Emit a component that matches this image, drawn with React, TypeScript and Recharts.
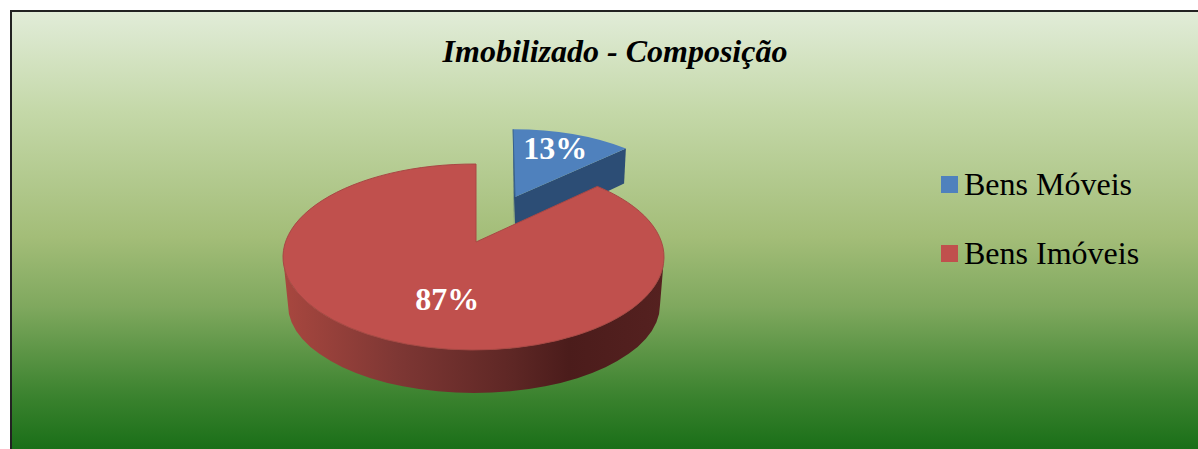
import { PieChart, Pie, Cell, Legend } from "recharts";

const categories = ["Bens Móveis", "Bens Imóveis"];
const shares = [13, 87];
const colors = ["#4F81BD", "#C0504D"];

const data = categories.map((name, i) => ({ name, value: shares[i] }));

const W = 1198;
const H = 449;
const FONT = "'Liberation Serif', 'Times New Roman', serif";
const PIE_CX = 476;
const PIE_CY = 242;
const PIE_R = 190.5;

// tilted pie: apex is off the ellipse centre because of the perspective
const SQUASH = 0.488;
const CENTER_DX = -2.5;
const CENTER_DY = 15;

// slice 0 is exploded to the back, so it also looks a bit smaller
const sliceLook = [
  { dx: 39, dy: -45, scale: 0.92, squash: 0.465 },
  { dx: 0, dy: 0, scale: 1, squash: SQUASH },
];
const labelPull = [
  [0.58, 0.65],
  [0.38, 0.67],
];

function ellipsePoint(ax: number, ay: number, ex: number, ey: number, rx: number, ry: number, deg: number) {
  // ray from the apex, leaving at the data angle (clockwise from 12 o'clock)
  const th = (deg * Math.PI) / 180;
  const dx = Math.sin(th) * rx;
  const dy = -Math.cos(th) * ry;
  const ox = ax - ex;
  const oy = ay - ey;
  const a = (dx * dx) / (rx * rx) + (dy * dy) / (ry * ry);
  const b = 2 * ((ox * dx) / (rx * rx) + (oy * dy) / (ry * ry));
  const c = (ox * ox) / (rx * rx) + (oy * oy) / (ry * ry) - 1;
  const t = (-b + Math.sqrt(b * b - 4 * a * c)) / (2 * a);
  return { x: ax + t * dx, y: ay + t * dy };
}

function Slice3D(props: any) {
  const { cx, cy, outerRadius, startAngle, endAngle, fill, index } = props;
  const look = sliceLook[index];
  const ax = cx + look.dx;
  const ay = cy + look.dy;
  const rx = outerRadius * look.scale;
  const ry = outerRadius * look.scale * look.squash;
  const ex = ax + CENTER_DX * look.scale;
  const ey = ay + CENTER_DY * look.scale;
  const a0 = 90 - startAngle;
  const a1 = 90 - endAngle;
  const p0 = ellipsePoint(ax, ay, ex, ey, rx, ry, a0);
  const p1 = ellipsePoint(ax, ay, ex, ey, rx, ry, a1);
  const large = a1 - a0 > 180 ? 1 : 0;

  if (index === 0) {
    const depth = 35;
    // the far edge leans out a little at the top
    const lean = p0.x - 2;
    const top = `M${ax},${ay} L${lean},${p0.y} A${rx},${ry} 0 ${large} 1 ${p1.x},${p1.y} Z`;
    return (
      <g>
        <path d={`M${ax},${ay} L${p1.x},${p1.y} L${p1.x - 1.8},${p1.y + depth} L${ax},${ay + depth + 3} Z`} fill="#2C4D75" />
        <path d={`M${ax},${ay} L${lean},${p0.y} L${ax - 1},${ay + 30} Z`} fill="#2C4D75" />
        <path d={top} fill={fill} />
        <path d={`M${lean},${p0.y} L${ax},${ay}`} stroke="#35608f" strokeWidth={1} fill="none" />
      </g>
    );
  }

  const top = `M${ax},${ay} L${p0.x},${p0.y} A${rx},${ry} 0 ${large} 1 ${p1.x},${p1.y} Z`;
  const wall = `M${ex - rx},${ey} A${rx},${ry} 0 0 0 ${ex + rx},${ey} L${ex + rx - 4},${ey + 48} A${rx - 4.5},${ry - 5} 0 0 1 ${ex - rx + 5},${ey + 48} Z`;
  return (
    <g>
      <path d={wall} fill="url(#redWall)" />
      <path d={top} fill={fill} stroke="#A84845" strokeWidth={1} />
    </g>
  );
}

function renderPct(props: any) {
  const { cx, cy, outerRadius, midAngle, percent, index } = props;
  const look = sliceLook[index];
  const th = ((90 - midAngle) * Math.PI) / 180;
  const r = outerRadius * look.scale;
  const x = cx + look.dx + Math.sin(th) * r * labelPull[index][0];
  const y = cy + look.dy - Math.cos(th) * r * look.squash * labelPull[index][1];
  return (
    <text x={x} y={y} textAnchor="middle" dominantBaseline="central" fill="#fff" fontFamily={FONT} fontWeight="bold" fontSize={32}>
      {Math.round(percent * 100)}%
    </text>
  );
}

function LegendBox({ payload }: any) {
  return (
    <div>
      {(payload || []).map((item: any, i: number) => (
        <div key={item.value} style={{ display: "flex", alignItems: "center", height: 69, fontFamily: FONT, fontSize: 32, color: "#000" }}>
          <span style={{ width: 17, height: 17, background: colors[i], marginRight: 6 }} />
          {item.value}
        </div>
      ))}
    </div>
  );
}

export default function App() {
  return (
    <div
      style={{
        position: "absolute",
        left: 0,
        top: 0,
        width: W,
        height: H,
        overflow: "hidden",
        background: "#fff",
      }}
    >
      <div
        style={{
          position: "absolute",
          left: 10,
          top: 10,
          width: W,
          height: H,
          boxSizing: "border-box",
          border: "2px solid #222",
          background:
            "linear-gradient(to bottom, #E1ECD8 0px, #C4D8A8 100px, #A3BD78 225px, #7FA85E 295px, #3A822E 385px, #1A6F18 437px)",
        }}
      />
      <PieChart width={W} height={H} margin={{ top: 0, right: 0, bottom: 0, left: 0 }} style={{ position: "absolute", left: 0, top: 0 }}>
        <defs>
          <linearGradient id="redWall" x1="0" y1="0" x2="1" y2="0">
            <stop offset="0%" stopColor="#A8473F" />
            <stop offset="30%" stopColor="#7E3734" />
            <stop offset="60%" stopColor="#5E2725" />
            <stop offset="75%" stopColor="#4B1C1B" />
            <stop offset="100%" stopColor="#552120" />
          </linearGradient>
        </defs>
        <text x={615} y={51} textAnchor="middle" dominantBaseline="central" fontFamily={FONT} fontWeight="bold" fontStyle="italic" fontSize={32} fill="#000">
          Imobilizado - Composição
        </text>
        <Pie
          data={data}
          dataKey="value"
          nameKey="name"
          cx={PIE_CX}
          cy={PIE_CY}
          outerRadius={PIE_R}
          startAngle={90}
          endAngle={-270}
          stroke="none"
          isAnimationActive={false}
          shape={Slice3D}
          label={renderPct}
          labelLine={false}
        >
          {data.map((d, i) => (
            <Cell key={d.name} fill={colors[i]} />
          ))}
        </Pie>
        <Legend
          layout="vertical"
          itemSorter={null}
          content={<LegendBox />}
          wrapperStyle={{ position: "absolute", left: 941, top: 150, width: 250, bottom: "auto", right: "auto" }}
        />
      </PieChart>
    </div>
  );
}
